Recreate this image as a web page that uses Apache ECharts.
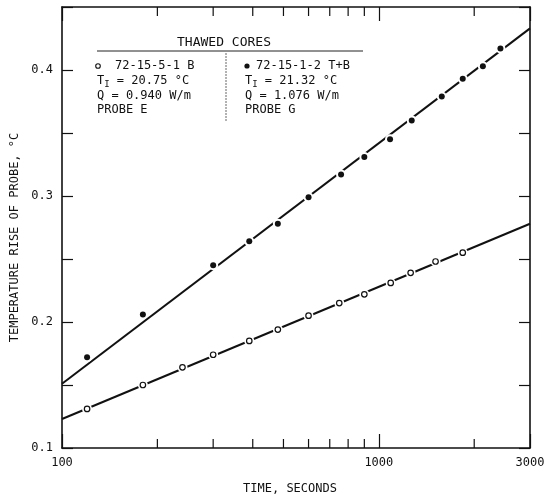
<!DOCTYPE html>
<html><head><meta charset="utf-8">
<script src="https://cdn.jsdelivr.net/npm/echarts@6/dist/echarts.min.js"></script>
<style>html,body{margin:0;padding:0;background:#fff}#c{width:555px;height:500px}</style>
</head><body><div id="c"></div>
<script>
// Probe E (open circles)
const timeE = [120,180,240,300,390,480,600,750,900,1090,1260,1510,1840];
const riseE = [0.131,0.150,0.164,0.174,0.185,0.194,0.205,0.215,0.222,0.231,0.239,0.248,0.255];
// Probe G (filled circles)
const timeG = [120,180,300,390,480,600,760,900,1085,1270,1580,1840,2130,2420];
const riseG = [0.172,0.206,0.245,0.264,0.278,0.299,0.317,0.331,0.345,0.360,0.379,0.393,0.403,0.417];
// fitted straight lines (semi-log)
const fitTime = [100,3000];
const fitE = [0.123,0.278];
const fitG = [0.151,0.433];
// axis ticks
const xMinorTicks = [200,300,400,500,600,700,800,900,2000];
const yTickLabels = ['0.1','0.2','0.3','0.4'];
// legend texts
const legendTitle = 'THAWED CORES';
const legendE = ['72-15-5-1 B','T{s|I} = 20.75 °C','Q = 0.940 W/m','PROBE E'];
const legendG = ['72-15-1-2 T+B','T{s|I} = 21.32 °C','Q = 1.076 W/m','PROBE G'];

const FONT = '"DejaVu Sans Mono", monospace';
const INK = '#111';
const chart = echarts.init(document.getElementById('c'), null, {renderer:'canvas'});

const ptsE = timeE.map((t,i)=>[t,riseE[i]]);
const ptsG = timeG.map((t,i)=>[t,riseG[i]]);

function legendText(x, y, txt){
  return {type:'text', x:x, y:y, z:10, style:{text:txt, font:'12px '+FONT, fill:INK,
    textVerticalAlign:'middle', verticalAlign:'middle',
    rich:{s:{fontSize:9, fontFamily:'DejaVu Sans Mono', padding:[7,0,0,0]}}}};
}
const graphics = [
  {type:'text', x:224, y:43, z:10, style:{text:legendTitle, font:'13px '+FONT, fill:INK, textAlign:'center', align:'center', textVerticalAlign:'middle', verticalAlign:'middle'}},
  {type:'line', z:10, shape:{x1:97,y1:51,x2:363,y2:51}, style:{stroke:'#222', lineWidth:1}},
  {type:'line', z:10, shape:{x1:226,y1:53,x2:226,y2:122}, style:{stroke:'#666', lineWidth:1, lineDash:[2,1]}},
  {type:'circle', z:10, shape:{cx:98, cy:66, r:2.3}, style:{fill:'#fff', stroke:INK, lineWidth:1.1}},
  {type:'circle', z:10, shape:{cx:247, cy:66, r:2.6}, style:{fill:INK}},
];
const rowsY = [66,81,96,110];
legendE.forEach((t,i)=>graphics.push(legendText(i===0?115:97, rowsY[i], t)));
legendG.forEach((t,i)=>graphics.push(legendText(i===0?256:245, rowsY[i], t)));

const option = {
  animation:false,
  backgroundColor:'#fff',
  grid:{left:62, right:25, top:7, bottom:51, show:false},
  xAxis:[
    {type:'log', logBase:10, min:100, max:3000, position:'bottom',
     name:'TIME, SECONDS', nameLocation:'middle', nameGap:35,
     nameTextStyle:{fontFamily:FONT, fontSize:12, color:INK, padding:[0,12,0,0]},
     axisLine:{show:true, onZero:false, lineStyle:{color:INK, width:1.6}},
     axisTick:{show:true, inside:true, length:14, lineStyle:{color:INK, width:1.2}},
     axisLabel:{show:true, margin:9, fontFamily:FONT, fontSize:12, color:INK,
       formatter:v=>String(Math.round(v))},
     minorTick:{show:false}, splitLine:{show:false}},
    {type:'log', logBase:10, min:100, max:3000, position:'top',
     axisLine:{show:true, onZero:false, lineStyle:{color:INK, width:1.6}},
     axisTick:{show:true, inside:true, length:14, lineStyle:{color:INK, width:1.2}},
     axisLabel:{show:false}, splitLine:{show:false}}
  ],
  yAxis:[
    {type:'value', min:0.1, max:0.45, interval:0.05, position:'left',
     name:'TEMPERATURE RISE OF PROBE, °C', nameLocation:'middle', nameGap:33, nameRotate:90,
     nameTextStyle:{fontFamily:FONT, fontSize:12, color:INK, padding:[0,20,0,0]},
     axisLine:{show:true, onZero:false, lineStyle:{color:INK, width:1.6}},
     axisTick:{show:true, inside:true, length:11, lineStyle:{color:INK, width:1.2}},
     axisLabel:{show:true, margin:9, fontFamily:FONT, fontSize:12, color:INK,
       formatter:v=>{const k=Math.round(v*10); return (Math.abs(v*10-k)<1e-6 && k>=1 && k<=4)?yTickLabels[k-1]:'';}},
     splitLine:{show:false}},
    {type:'value', min:0.1, max:0.45, interval:0.05, position:'right',
     axisLine:{show:true, onZero:false, lineStyle:{color:INK, width:1.6}},
     axisTick:{show:true, inside:true, length:11, lineStyle:{color:INK, width:1.2}},
     axisLabel:{show:false}, splitLine:{show:false}}
  ],
  graphic: graphics,
  series:[
    {type:'custom', name:'minorTicks', silent:true, z:1, clip:false,
     data: xMinorTicks.map(v=>[v,0.1]),
     encode:{x:0,y:1},
     renderItem:(params, api)=>{
       const v = api.value(0);
       const b = api.coord([v,0.1]); const t = api.coord([v,0.45]);
       const len = 9;
       return {type:'group', children:[
         {type:'line', shape:{x1:b[0],y1:b[1],x2:b[0],y2:b[1]-len}, style:{stroke:INK, lineWidth:1.2}},
         {type:'line', shape:{x1:t[0],y1:t[1],x2:t[0],y2:t[1]+len}, style:{stroke:INK, lineWidth:1.2}}
       ]};
     }},
    {type:'line', name:'fitG', data: fitTime.map((t,i)=>[t,fitG[i]]), showSymbol:false, symbol:'none',
     lineStyle:{color:INK, width:2}, z:2, silent:true},
    {type:'line', name:'fitE', data: fitTime.map((t,i)=>[t,fitE[i]]), showSymbol:false, symbol:'none',
     lineStyle:{color:INK, width:2}, z:2, silent:true},
    {type:'scatter', name:'haloE', data: ptsE, symbol:'circle', symbolSize:10, itemStyle:{color:'#fff', opacity:1}, z:3, silent:true},
    {type:'scatter', name:'haloG', data: ptsG, symbol:'circle', symbolSize:10, itemStyle:{color:'#fff', opacity:1}, z:3, silent:true},
    {type:'scatter', name:'PROBE E', data: ptsE, symbol:'circle', symbolSize:5.5,
     itemStyle:{color:'#fff', borderColor:INK, borderWidth:1.2, opacity:1}, z:4},
    {type:'scatter', name:'PROBE G', data: ptsG, symbol:'circle', symbolSize:6,
     itemStyle:{color:INK, opacity:1}, z:4}
  ]
};
chart.setOption(option);
</script>
</body></html>
